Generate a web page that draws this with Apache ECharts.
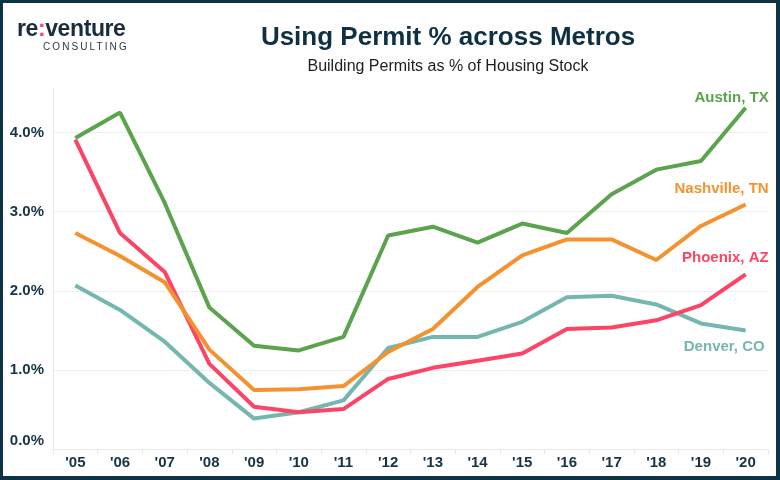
<!DOCTYPE html>
<html>
<head>
<meta charset="utf-8">
<script src="https://cdn.jsdelivr.net/npm/echarts@6/dist/echarts.min.js"></script>
<style>
html,body{margin:0;padding:0;background:#fff;}
#frame{position:absolute;left:0;top:0;width:780px;height:480px;box-sizing:border-box;border:3px solid #0e3344;border-right-width:4px;border-bottom-width:4px;}
#chart{position:absolute;left:0;top:0;width:780px;height:480px;}
#logo{position:absolute;left:17px;top:15px;font-family:"Liberation Sans",Arial,sans-serif;color:#1a2c3d;}
#logo .main{font-size:23px;font-weight:bold;letter-spacing:-0.4px;line-height:26px;}
#logo .main span{color:#f04a6a;}
#logo .sub{font-size:10px;letter-spacing:2.1px;margin-left:26px;line-height:11px;color:#2a3a4a;}
</style>
</head>
<body>
<div id="chart"></div>
<div id="frame"></div>
<div id="logo"><div class="main">re<span>:</span>venture</div><div class="sub">CONSULTING</div></div>
<script>
const years = ["'05","'06","'07","'08","'09","'10","'11","'12","'13","'14","'15","'16","'17","'18","'19","'20"];
const austin    = [3.93,4.25,3.11,1.79,1.31,1.25,1.42,2.70,2.81,2.61,2.85,2.73,3.22,3.53,3.64,4.31];
const nashville = [2.73,2.44,2.11,1.26,0.75,0.76,0.80,1.23,1.52,2.05,2.45,2.65,2.65,2.39,2.82,3.09];
const phoenix   = [3.91,2.73,2.24,1.08,0.54,0.47,0.51,0.89,1.03,1.12,1.21,1.52,1.54,1.63,1.82,2.21];
const denver    = [2.07,1.76,1.36,0.84,0.39,0.47,0.62,1.28,1.42,1.42,1.61,1.92,1.94,1.83,1.59,1.50];
const seriesNames = ["Austin, TX","Nashville, TN","Phoenix, AZ","Denver, CO"];
const colors = ["#5ba34d","#f3922f","#fb4466","#74b7b0"];

const chart = echarts.init(document.getElementById('chart'));
const font = '"Liberation Sans", Arial, sans-serif';
function mk(name, data, color, offset){
  return {
    name: name, type: 'line', data: data, symbol: 'none', smooth: false,
    lineStyle: {width: 4, color: color}, itemStyle: {color: color},
    endLabel: {show: true, formatter: '{a}', align: 'right', distance: 0, offset: offset,
      color: color, fontFamily: font, fontWeight: 'bold', fontSize: 15}
  };
}
chart.setOption({
  animation: false,
  title: {
    text: 'Using Permit % across Metros',
    subtext: 'Building Permits as % of Housing Stock',
    left: 443, textAlign: 'center', top: 20, itemGap: 8,
    textStyle: {fontFamily: font, fontWeight: 'bold', fontSize: 26, color: '#0f3042'},
    subtextStyle: {fontFamily: font, fontSize: 16, color: '#1e1e1e'}
  },
  grid: {left: 53, right: 12, top: 88, bottom: 30.5},
  xAxis: {
    type: 'category', data: years, boundaryGap: true,
    axisLine: {lineStyle: {color: '#e8e8e8', width: 1}},
    axisTick: {show: true, length: 5, lineStyle: {color: '#e8e8e8'}},
    axisLabel: {fontFamily: font, fontWeight: 'bold', fontSize: 15, color: '#163446', margin: 6}
  },
  yAxis: {
    type: 'value', min: 0, max: 4.56, interval: 1,
    axisLine: {show: true, lineStyle: {color: '#e8e8e8'}},
    axisTick: {show: false},
    splitLine: {lineStyle: {color: ['#eeeeee','#eeeeee','#eeeeee','#eeeeee','#eeeeee','rgba(0,0,0,0)']}},
    axisLabel: {
      showMaxLabel: false, margin: 9,
      fontFamily: font, fontWeight: 'bold', fontSize: 15, color: '#163446',
      formatter: function(v){ if (Math.abs(v - Math.round(v)) > 1e-6) return ''; return v === 0 ? '{z|0.0%}' : v.toFixed(1) + '%'; },
      rich: {z: {fontFamily: font, fontWeight: 'bold', fontSize: 15, color: '#163446', padding: [0,0,18,0]}}
    }
  },
  series: [
    mk(seriesNames[3], denver, colors[3], [19, 16]),
    mk(seriesNames[2], phoenix, colors[2], [23, -16]),
    mk(seriesNames[1], nashville, colors[1], [23, -16]),
    mk(seriesNames[0], austin, colors[0], [23, -10])
  ]
});
</script>
</body>
</html>
